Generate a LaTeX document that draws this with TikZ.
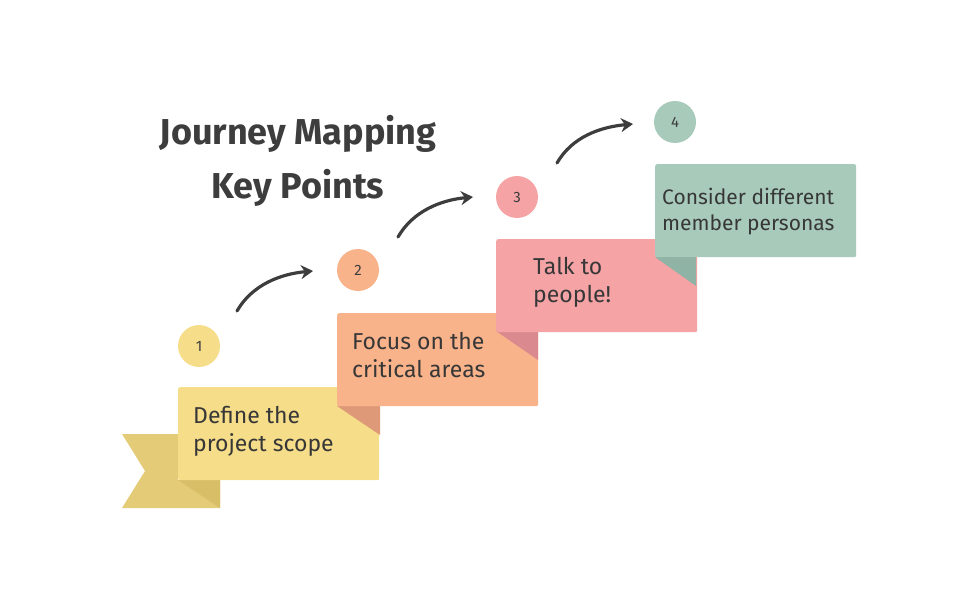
\documentclass[tikz,border=0pt]{standalone}
\usepackage{fontspec}
\setmainfont{Fira Sans}
\usetikzlibrary{arrows.meta}
\definecolor{ink}{HTML}{3D3D3D}
\definecolor{cY}{HTML}{F6DD8A}\definecolor{dY}{HTML}{E3CB78}\definecolor{fY}{HTML}{D9BE68}
\definecolor{cO}{HTML}{F9B38A}\definecolor{fO}{HTML}{DE9A78}
\definecolor{cP}{HTML}{F5A3A5}\definecolor{fP}{HTML}{DA8A8E}
\definecolor{cG}{HTML}{A7CABB}\definecolor{fG}{HTML}{8FB3A4}
\tikzset{x=1pt,y=-1pt,
 stepbox/.style={rounded corners=2pt,minimum width=201pt,minimum height=93pt,anchor=north west,inner sep=0pt},
 steptext/.style={anchor=north west,align=left,font=\fontsize{23}{28}\selectfont,text=ink!90!black,inner sep=0pt},
 num/.style={circle,minimum size=42pt,inner sep=0pt,font=\fontsize{15}{15}\selectfont,text=ink},
 arr/.style={line width=3.2pt,draw=ink,-{Stealth[length=12pt,width=14pt]},line cap=round}}
\begin{document}
\begin{tikzpicture}
\useasboundingbox (0,0) rectangle (957,610);
% ribbon tail
\fill[dY] (122,434) -- (178,434) -- (178,480) -- (220,480) -- (220,508) -- (122,508) -- (145,471) -- cycle;
\fill[fY] (178,480) -- (220,480) -- (220,508) -- cycle;
% boxes
\node[stepbox,fill=cY] (b1) at (178,387) {};
\fill[fO] (337,406) -- (380,406) -- (380,435) -- cycle;
\node[stepbox,fill=cO] (b2) at (337,313) {};
\fill[fP] (496,331) -- (538,331) -- (538,360) -- cycle;
\node[stepbox,fill=cP] (b3) at (496,239) {};
\fill[fG] (655,257) -- (696,257) -- (696,286) -- cycle;
\node[stepbox,fill=cG] (b4) at (655,164) {};
% texts
\node[steptext] (t1) at (193,406) {Define the\\project scope};
\node[steptext] (t2) at (352,332) {Focus on the\\critical areas};
\node[steptext] (t3) at (533,257) {Talk to\\people!};
\node[steptext,font=\fontsize{21}{26}\selectfont] (t4) at (662,188) {Consider different\\member personas};
% circles
\node[num,fill=cY] (n1) at (199,346) {1};
\node[num,fill=cO] (n2) at (358,270) {2};
\node[num,fill=cP] (n3) at (517,197) {3};
\node[num,fill=cG] (n4) at (675,122) {4};
% arrows
\coordinate (a1s) at (237,311); \coordinate (a1e) at (313,271);
\coordinate (a2s) at (398,237); \coordinate (a2e) at (473,197);
\coordinate (a3s) at (557,163); \coordinate (a3e) at (633,124);
\draw[arr] (a1s) .. controls (252,285) and (280,274) .. (a1e);
\draw[arr] (a2s) .. controls (413,211) and (441,200) .. (a2e);
\draw[arr] (a3s) .. controls (572,137) and (600,127) .. (a3e);
% title
\node[font=\fontsize{36}{54}\selectfont\bfseries,text=ink,align=center] (title) at (298,161) {Journey Mapping\\Key Points};
\end{tikzpicture}
\end{document}
